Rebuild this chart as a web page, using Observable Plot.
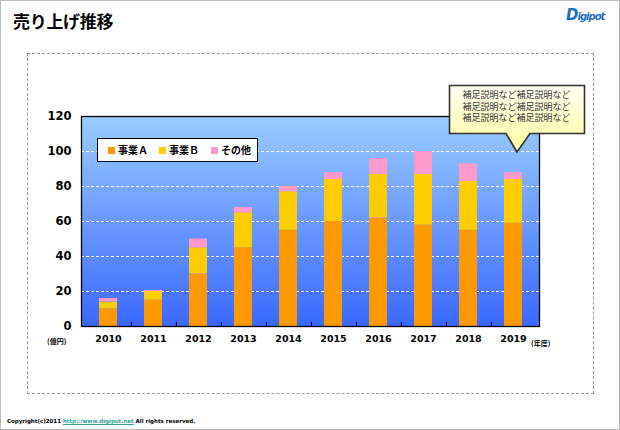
<!DOCTYPE html>
<html>
<head>
<meta charset="utf-8">
<script src="https://cdn.jsdelivr.net/npm/d3@7"></script>
<script src="https://cdn.jsdelivr.net/npm/@observablehq/plot@0.6"></script>
<style>
  html, body { margin: 0; padding: 0; background: #fff; }
  #page { position: relative; width: 620px; height: 430px; overflow: hidden; font-family: "Noto Sans CJK JP", "DejaVu Sans", sans-serif; }
  #border { position: absolute; left: 0; top: 0; width: 618px; height: 428px; border: 1px solid #BBBBBB; }
  #dash { position: absolute; left: 27px; top: 53px; width: 565px; height: 339px; border: 1px dashed #9A9A9A; }
  #title { position: absolute; left: 13px; top: 8px; font-size: 17px; font-weight: bold; color: #000; letter-spacing: -0.3px; }
  #logo { position: absolute; left: 566px; top: 6px; font-family: "DejaVu Sans", sans-serif; font-style: italic; font-weight: bold; color: #1f6fc0; font-size: 15px; letter-spacing: -1px; }
  #logo span { font-size: 10px; }
  #chart { position: absolute; left: 0; top: 0; }
  #legend { position: absolute; left: 97px; top: 138px; width: 159px; height: 22px; background: #fff; border: 1px solid #000; font-size: 10px; font-weight: bold; }
  .li { position: absolute; top: 4px; display: flex; align-items: center; gap: 3px; line-height: 14px; }
  .sw { display: inline-block; width: 7px; height: 7px; }
  .unit { position: absolute; font-size: 7px; font-weight: bold; color: #000; }
  #copy { position: absolute; left: 7px; top: 418px; font-family: "DejaVu Sans", sans-serif; font-size: 5.5px; font-weight: bold; color: #000; }
  #copy a { color: #2aa59a; }
  #callout { position: absolute; left: 0; top: 0; }
  #ctext { position: absolute; left: 449px; top: 89px; width: 135px; text-align: center; font-size: 9px; line-height: 11.7px; color: #333; }
</style>
</head>
<body>
<div id="page">
  <div id="border"></div>
  <div id="dash"></div>
  <div id="title">売り上げ推移</div>
  <div id="logo">D<span>igipot</span></div>
  <div id="chart"></div>
  <div id="legend"></div>
  <div class="unit" style="left:47px;top:336px;">(億円)</div>
  <div class="unit" style="left:531px;top:338px;">(年度)</div>
  <svg id="callout" width="620" height="430">
    <defs>
      <linearGradient id="cg" x1="0" y1="0" x2="0" y2="1">
        <stop offset="0" stop-color="#FFFFF4"/>
        <stop offset="1" stop-color="#FFFF9C"/>
      </linearGradient>
    </defs>
    <path d="M449.5,85.5 H584.5 V133.5 H530 L517,152 L506,133.5 H449.5 Z" fill="url(#cg)" stroke="#333" stroke-width="1.6" stroke-linejoin="miter"/>
  </svg>
  <div id="ctext">補足説明など補足説明など<br>補足説明など補足説明など<br>補足説明など補足説明など</div>
  <div id="copy">Copyright(c)2011 <a href="#">http://www.digipot.net</a> All rights reserved.</div>
</div>
<script>
// ---- data ----
const years = ["2010","2011","2012","2013","2014","2015","2016","2017","2018","2019"];
const seriesNames = ["事業Ａ","事業Ｂ","その他"];
const salesA = [10, 15, 30, 45, 55, 60, 62, 58, 55, 59];
const salesB = [4, 5, 15, 20, 22, 24, 25, 29, 28, 25];
const salesOther = [2, 0.6, 5, 3, 3, 4, 9, 13, 10, 4];
const seriesColors = ["#FF9900", "#FFCC00", "#FF99CC"];
const yTicks = [0, 20, 40, 60, 80, 100, 120];
const gridValues = [20, 40, 60, 80, 100];

const rows = years.flatMap((yr, i) => [
  {year: yr, series: seriesNames[0], value: salesA[i]},
  {year: yr, series: seriesNames[1], value: salesB[i]},
  {year: yr, series: seriesNames[2], value: salesOther[i]}
]);

const W = 620, H = 430, mL = 81, mR = 81, mT = 116, mB = 104;
const step = (W - mL - mR) / years.length;

const gradientDefs = () => {
  const ns = "http://www.w3.org/2000/svg";
  const defs = document.createElementNS(ns, "defs");
  defs.innerHTML = '<linearGradient id="bgGrad" x1="0" y1="0" x2="0" y2="1">' +
    '<stop offset="0" stop-color="#9ACCFF"/><stop offset="1" stop-color="#3A68FF"/></linearGradient>';
  return defs;
};

const chart = Plot.plot({
  width: W, height: H,
  marginLeft: mL, marginRight: mR, marginTop: mT, marginBottom: mB,
  style: {fontFamily: "'DejaVu Sans', sans-serif", background: "transparent", overflow: "visible"},
  x: {type: "band", domain: years, paddingInner: 0.6, paddingOuter: 0.3, align: 0.5},
  y: {domain: [0, 120]},
  color: {domain: seriesNames, range: seriesColors},
  marks: [
    gradientDefs,
    Plot.frame({fill: "url(#bgGrad)", stroke: "none"}),
    Plot.ruleY(gridValues, {stroke: "white", strokeDasharray: "3,2", strokeWidth: 1}),
    Plot.barY(rows, {x: "year", y: "value", fill: "series", order: seriesNames}),
    Plot.ruleX(years.slice(0, -1), {x: d => d, y1: 0, y2: 2.4, dx: step / 2, stroke: "#000"}),
    Plot.frame({stroke: "#000", strokeWidth: 1.3}),
    Plot.axisY({ticks: yTicks, tickSize: 0, tickPadding: 10, label: null, fontWeight: "bold", fontSize: 11.5, fill: "#000"}),
    Plot.axisX({tickSize: 0, tickPadding: 9, label: null, fontWeight: "bold", fontSize: 9.5, fill: "#000"})
  ]
});
document.getElementById("chart").appendChild(chart);

// legend (HTML, above the svg)
const legend = document.getElementById("legend");
const lx = [10, 61, 113];
seriesNames.forEach((name, i) => {
  const d = document.createElement("div");
  d.className = "li";
  d.style.left = lx[i] + "px";
  d.innerHTML = `<span class="sw" style="background:${seriesColors[i]}"></span><span>${name}</span>`;
  legend.appendChild(d);
});
</script>
</body>
</html>
